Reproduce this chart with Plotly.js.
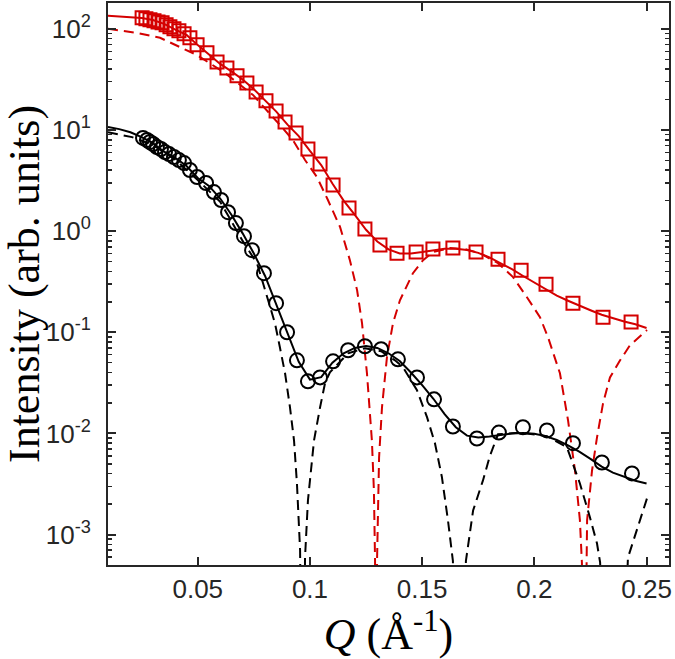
<!DOCTYPE html>
<html>
<head>
<meta charset="utf-8">
<script src="https://cdn.plot.ly/plotly-3.0.1.min.js"></script>
<style>html,body{margin:0;padding:0;background:#fff;}#chart{width:675px;height:659px;}</style>
</head>
<body>
<div id="chart"></div>
<script>
// ---- Data ----
const redQ = [0.0252,0.0269,0.0287,0.0305,0.0323,0.0341,0.0359,0.0376,0.0394,0.0416,0.0439,0.0465,0.0497,0.0541,0.0586,0.0630,0.0675,0.0719,0.0760,0.0804,0.0849,0.0889,0.0938,0.0991,0.1045,0.1103,0.1174,0.1245,0.1312,0.1388,0.1473,0.1548,0.1637,0.1740,0.1838,0.1941,0.2052,0.2172,0.2306,0.2431];
const redI = [128.5,125.7,122.8,120,117,114.6,109.5,104.7,100,95.5,89.2,81.4,69.5,57.9,47.1,41.1,34.3,29.2,23.8,19.4,15.4,12.0,9.33,6.48,4.60,2.85,1.69,1.05,0.727,0.605,0.620,0.664,0.679,0.620,0.528,0.411,0.299,0.194,0.141,0.126];

const blackQ = [0.0256,0.0274,0.0287,0.0301,0.0318,0.0336,0.0354,0.0372,0.0394,0.0416,0.0439,0.0465,0.0497,0.0537,0.0572,0.0604,0.0635,0.0670,0.0706,0.0742,0.0795,0.0849,0.0898,0.0942,0.0991,0.1045,0.1103,0.1170,0.1245,0.1317,0.1392,0.1477,0.1553,0.1637,0.1744,0.1842,0.1949,0.2056,0.2172,0.2301,0.2435];
const blackI = [8.34,7.96,7.60,7.26,6.79,6.48,6.05,5.78,5.40,5.04,4.71,4.02,3.43,2.99,2.43,2.03,1.54,1.20,0.891,0.648,0.384,0.194,0.100,0.0528,0.0327,0.0358,0.0516,0.0664,0.0727,0.0679,0.0540,0.0358,0.0217,0.0117,0.0089,0.0102,0.0115,0.0107,0.0080,0.00516,0.00402];

const fitQ = [0.010,0.015,0.020,0.025,0.030,0.035,0.040,0.045,0.050,0.055,0.060,0.065,0.070,0.075,0.080,0.085,0.090,0.095,0.100,0.105,0.110,0.115,0.120,0.125,0.130,0.135,0.140,0.145,0.150,0.155,0.160,0.165,0.170,0.175,0.180,0.185,0.190,0.195,0.200,0.205,0.210,0.215,0.220,0.225,0.230,0.235,0.240,0.245,0.250];
const redFitI = [135,133,131,128,122,112,98,87,69,56,45,38,31.5,25.3,19.8,15.2,11.3,8.7,6.2,4.5,2.95,2.0,1.45,1.03,0.79,0.66,0.60,0.60,0.62,0.65,0.67,0.67,0.65,0.61,0.55,0.48,0.42,0.36,0.31,0.265,0.23,0.205,0.183,0.165,0.149,0.137,0.128,0.12,0.11];
const blackFitI = [10.7,10.2,9.5,8.5,7.4,6.1,5.3,4.4,3.35,2.8,2.1,1.45,0.95,0.60,0.36,0.19,0.098,0.051,0.034,0.036,0.050,0.062,0.070,0.073,0.070,0.062,0.052,0.040,0.030,0.022,0.0155,0.0115,0.0095,0.0091,0.0093,0.0097,0.0100,0.0101,0.0099,0.0094,0.0086,0.0076,0.0066,0.0056,0.0047,0.0041,0.0037,0.0034,0.0032];

const redFormQ = [0.010,0.0229,0.0332,0.0421,0.0497,0.0621,0.0746,0.0866,0.0924,0.0978,0.1031,0.1080,0.1134,0.1178,0.1210,0.1232,0.1254,0.1276,0.1285,0.1290,0.1294,0.1299,0.1303,0.1308,0.1321,0.1343,0.1370,0.1401,0.1459,0.1504,0.1548,0.1624,0.1691,0.1758,0.1838,0.1905,0.1967,0.2025,0.2061,0.2114,0.2150,0.2181,0.2203,0.2212,0.2219,0.2230,0.2235,0.2257,0.2279,0.2306,0.2337,0.2382,0.2426,0.2502];
const redFormI = [100,91,81.5,66,55,36.6,22.2,11.2,7.96,5.04,3.43,2.03,1.10,0.516,0.261,0.123,0.0393,0.00853,0.00273,0.00056,1e-6,0.00056,0.00273,0.0058,0.0181,0.0565,0.123,0.207,0.384,0.516,0.620,0.679,0.664,0.605,0.482,0.351,0.222,0.141,0.0891,0.0393,0.0135,0.0043,0.00138,0.00052,1e-6,0.00052,0.00138,0.0043,0.0091,0.0198,0.0358,0.0528,0.0743,0.105];

const blackFormQ = [0.010,0.0207,0.030,0.040,0.050,0.060,0.070,0.0764,0.0791,0.0844,0.0866,0.0889,0.0911,0.0929,0.0942,0.0956,0.0968,0.0978,0.0991,0.1018,0.1045,0.1067,0.1089,0.1134,0.1170,0.1245,0.1317,0.1379,0.1415,0.1477,0.1522,0.1557,0.1588,0.1615,0.1637,0.1665,0.1695,0.1727,0.1771,0.1802,0.1838,0.1936,0.2056,0.2145,0.2203,0.2248,0.2279,0.2293,0.2355,0.2417,0.2484,0.2506];
const blackFormI = [9.5,8.5,7.1,5.1,3.2,1.95,0.80,0.48,0.305,0.123,0.071,0.0393,0.0181,0.0085,0.0032,0.0007,1e-6,0.00059,0.00217,0.0085,0.0181,0.0313,0.0402,0.0505,0.0619,0.0695,0.0650,0.0528,0.0450,0.0267,0.0144,0.0080,0.0037,0.00138,0.00055,1e-6,0.00055,0.00173,0.00343,0.0060,0.0098,0.0102,0.0094,0.0073,0.0032,0.00147,0.00082,0.00053,1e-7,0.00059,0.00173,0.00243];

const xTickVals = [0.05,0.1,0.15,0.2,0.25];
const xTickText = ['0.05','0.1','0.15','0.2','0.25'];
const yTickVals = [1e-3,1e-2,1e-1,1e0,1e1,1e2];
const yTickText = ['10<sup>-3</sup>','10<sup>-2</sup>','10<sup>-1</sup>','10<sup>0</sup>','10<sup>1</sup>','10<sup>2</sup>'];

// ---- Styles ----
const RED = '#d40000';
const BLK = '#000000';
const AX = '#262626';
const dash = '10px,6px';

const minorVals = [];
for (let e = -4; e <= 2; e++) for (let m = 2; m <= 9; m++) minorVals.push(m * Math.pow(10, e));

const traces = [
  {x: redFormQ, y: redFormI, mode:'lines', line:{color:RED, width:2, dash:dash}, hoverinfo:'skip'},
  {x: blackFormQ, y: blackFormI, mode:'lines', line:{color:BLK, width:2, dash:dash}, hoverinfo:'skip'},
  {x: fitQ, y: redFitI, mode:'lines', line:{color:RED, width:2}},
  {x: fitQ, y: blackFitI, mode:'lines', line:{color:BLK, width:2}},
  {x: redQ, y: redI, mode:'markers', marker:{symbol:'square-open', size:13, color:RED, line:{width:2, color:RED}}},
  {x: blackQ, y: blackI, mode:'markers', marker:{symbol:'circle-open', size:14, color:BLK, line:{width:2, color:BLK}}}
];

const layout = {
  width: 675, height: 659,
  margin: {l:108, r:6, t:3, b:94},
  paper_bgcolor:'#ffffff', plot_bgcolor:'#ffffff',
  showlegend:false,
  xaxis: {
    range:[0.01,0.26], tickmode:'array', tickvals:xTickVals, ticktext:xTickText,
    ticks:'inside', ticklen:8, tickwidth:2, tickcolor:AX,
    showline:true, linewidth:2, linecolor:AX, mirror:'ticks',
    showgrid:false, zeroline:false,
    tickfont:{family:'Liberation Sans, Arial, sans-serif', size:26, color:AX},
    title:{text:'<i>Q</i> (Å<sup>-1</sup>)', font:{family:'Liberation Serif, Times New Roman, serif', size:44, color:'#000'}, standoff:6}
  },
  yaxis: {
    type:'log', range:[Math.log10(5e-4), Math.log10(180)],
    tickmode:'array', tickvals:yTickVals, ticktext:yTickText,
    ticks:'inside', ticklen:8, tickwidth:2, tickcolor:AX,
    ticklabelstandoff:10,
    minor:{tickmode:'array', tickvals:minorVals, ticks:'inside', ticklen:4, tickwidth:1.5, tickcolor:AX, showgrid:false},
    showline:true, linewidth:2, linecolor:AX, mirror:'ticks',
    showgrid:false, zeroline:false,
    tickfont:{family:'Liberation Sans, Arial, sans-serif', size:26, color:AX},
    title:{text:'Intensity (arb. units)', font:{family:'Liberation Serif, Times New Roman, serif', size:44, color:'#000'}, standoff:2}
  }
};

Plotly.newPlot('chart', traces, layout, {staticPlot:true, displayModeBar:false});
</script>
</body>
</html>
